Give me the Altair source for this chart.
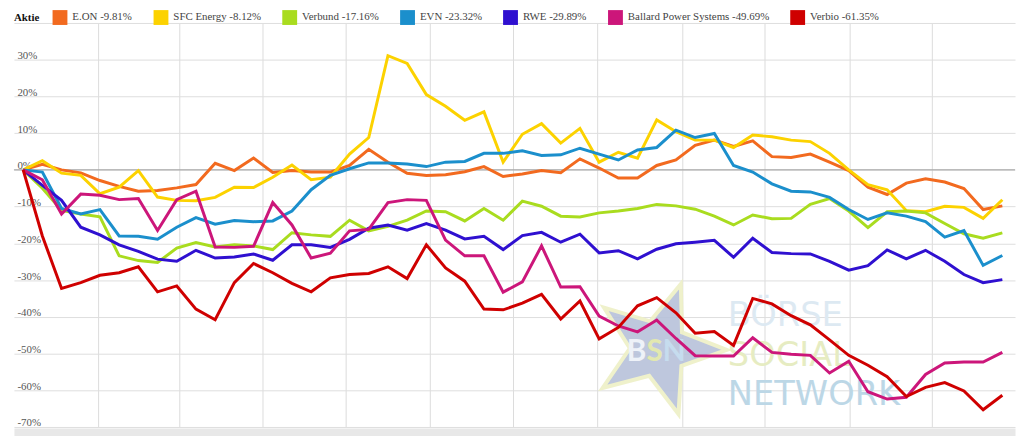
import math
import altair as alt
import pandas as pd

names = ["E.ON", "SFC Energy", "Verbund", "EVN", "RWE", "Ballard Power Systems", "Verbio"]
final_change = ["-9.81%", "-8.12%", "-17.16%", "-23.32%", "-29.89%", "-49.69%", "-61.35%"]
colors = ["#f26a1f", "#fcd200", "#a9dc1f", "#1b8fcc", "#2f10d0", "#cc167a", "#cf0000"]

weeks = list(range(52))

eon = [0, 1.5, 0, -0.8, -2.9, -4.5, -5.8, -5.6, -4.9, -4.0, 1.8, -0.2, 3.2, -0.7,
       -0.2, -0.6, -0.6, 1.2, 5.6, 2.1, -0.9, -1.5, -1.3, -0.5, 0.9, -1.8, -1.1,
       -0.2, -0.8, 3.0, 0.5, -2.2, -2.2, 1.2, 2.7, 6.7, 8.1, 6.4, 7.9, 3.6, 3.4,
       4.3, 2.1, -0.2, -4.7, -6.7, -3.6, -2.4, -3.3, -5.1, -10.8, -9.81]
sfc = [0, 2.5, -0.9, -1.5, -6.5, -4.7, -0.2, -7.4, -8.3, -8.4, -7.5, -4.7, -4.8, -2.0,
       1.3, -2.7, -2.0, 4.3, 8.8, 31.1, 29.0, 20.5, 17.3, 13.5, 15.8, 2.1, 9.7,
       12.6, 7.3, 11.3, 2.1, 4.8, 3.2, 13.6, 10.4, 8.1, 8.1, 6.1, 9.5, 9.0, 8.1,
       7.7, 4.5, 0.0, -4.0, -5.4, -11.1, -11.4, -9.9, -10.2, -13.2, -8.12]
verbund = [0, -5.0, -11.0, -12.0, -12.8, -23.4, -24.7, -25.2, -21.3, -19.8, -21.0, -20.4,
           -20.7, -21.7, -17.1, -17.7, -18.1, -13.7, -16.6, -15.4, -13.7, -11.2, -11.4,
           -13.9, -10.5, -13.7, -8.5, -9.9, -12.6, -12.8, -11.7, -11.2, -10.5, -9.4,
           -9.8, -10.7, -12.6, -15.0, -12.3, -13.3, -13.2, -9.4, -7.8, -11.2, -15.7,
           -11.4, -11.2, -11.7, -14.6, -17.4, -18.6, -17.16]
evn = [0, -0.6, -10.5, -12.0, -10.8, -18.0, -18.1, -18.9, -15.6, -13.0, -14.8, -13.8,
       -14.1, -13.9, -11.2, -5.4, -1.5, 0.3, 1.9, 1.9, 1.6, 0.9, 2.1, 2.3, 4.5, 4.5,
       5.2, 3.9, 4.1, 5.9, 4.3, 2.7, 5.4, 6.1, 10.8, 8.8, 9.9, 1.2, -0.6, -3.8, -5.8,
       -6.0, -7.5, -10.8, -13.5, -11.7, -12.6, -14.1, -18.3, -16.5, -26.0, -23.32]
rwe = [0, -4.2, -8.3, -15.6, -17.7, -20.4, -22.2, -24.3, -24.9, -21.9, -24.0, -23.7,
       -22.9, -24.6, -20.4, -20.4, -21.1, -18.9, -15.9, -15.0, -16.4, -14.6, -16.4,
       -18.8, -18.1, -21.7, -17.9, -17.0, -19.7, -17.5, -22.6, -22.0, -24.2, -21.6,
       -20.1, -19.7, -19.2, -23.8, -18.6, -22.5, -22.8, -22.9, -24.9, -27.3, -26.1,
       -21.8, -24.2, -21.9, -24.9, -28.5, -30.7, -29.89]
ballard = [0, -2.7, -12.0, -6.6, -6.9, -8.1, -7.8, -16.5, -8.1, -5.8, -21.0, -21.1,
           -20.8, -8.9, -15.0, -24.0, -22.7, -16.6, -16.2, -8.9, -8.1, -8.3, -19.1,
           -23.4, -23.4, -33.3, -30.5, -20.7, -31.9, -31.8, -39.8, -42.5, -44.1, -40.9,
           -45.9, -50.6, -50.7, -50.7, -45.7, -49.7, -50.2, -50.5, -55.3, -52.1, -60.4,
           -62.4, -61.9, -55.7, -52.6, -52.3, -52.3, -49.69]
verbio = [0, -18.0, -32.3, -30.7, -28.7, -28.0, -26.4, -33.2, -31.6, -37.9, -40.8, -30.7,
          -25.5, -28.0, -30.9, -33.2, -29.4, -28.5, -28.2, -26.4, -29.6, -20.4, -26.7,
          -30.3, -37.9, -38.1, -36.3, -33.9, -40.6, -35.7, -46.0, -42.9, -37.0, -34.8,
          -38.9, -44.5, -44.0, -47.8, -35.0, -36.5, -39.7, -42.2, -46.3, -50.5, -53.2,
          -56.3, -61.7, -59.2, -57.9, -60.2, -65.3, -61.35]

series_values = [eon, sfc, verbund, evn, rwe, ballard, verbio]

# month boundaries (vertical grid lines), in week units
month_ticks = [3.90, 8.13, 12.47, 16.80, 21.18, 25.51, 29.90, 34.33, 38.61, 43.05, 47.33]
y_ticks = [-70, -60, -50, -40, -30, -20, -10, 0, 10, 20, 30, 40]

labels = [f"{n} {c}" for n, c in zip(names, final_change)]

rows = []
for lab, vals in zip(labels, series_values):
    for w, v in zip(weeks, vals):
        rows.append({"week": w, "value": v, "series": lab})
df = pd.DataFrame(rows)

FONT = "Liberation Serif"
W, H = 1011, 408

x_enc = alt.X(
    "week:Q",
    scale=alt.Scale(domain=[-0.48, 51.66], nice=False, zero=False),
    axis=alt.Axis(values=month_ticks, grid=True, gridColor="#dcdcdc", gridWidth=1,
                  labels=False, ticks=False, tickSize=0, domain=True,
                  domainColor="#e8e8e8", domainWidth=12, offset=7, title=None),
)
y_enc = alt.Y(
    "value:Q",
    scale=alt.Scale(domain=[-70, 40], nice=False, zero=False),
    axis=alt.Axis(values=y_ticks,
                  labelExpr="datum.value >= 40 ? '' : datum.value + '%'",
                  labelAlign="left", labelPadding=-3, labelBaseline="alphabetic",
                  labelOffset=-1,
                  labelOverlap=False, labelBound=False, labelFlush=False,
                  ticks=False, tickSize=0, domain=False, grid=True,
                  gridColor="#dedede", gridWidth=1, labelColor="#555555",
                  labelFont=FONT, labelFontSize=11, title=None),
)

lines = alt.Chart(df).mark_line(strokeWidth=3, interpolate="linear").encode(
    x=x_enc,
    y=y_enc,
    stroke=alt.Stroke("series:N", scale=alt.Scale(domain=labels, range=colors), legend=None),
    detail="series:N",
)

legend_layer = alt.Chart(df).mark_square(opacity=0, size=1).encode(
    x=x_enc,
    y=y_enc,
    fill=alt.Fill(
        "series:N",
        scale=alt.Scale(domain=labels, range=colors),
        legend=alt.Legend(
            orient="none", legendX=0, legendY=-13, direction="horizontal",
            columns=7, title="Aktie", titleOrient="left", titleFont=FONT,
            titleFontSize=11, titleFontWeight="bold", titleColor="#111111",
            titlePadding=13, titleBaseline="middle",
            labelFont=FONT, labelFontSize=11, labelColor="#444444", labelLimit=0,
            labelOffset=5, symbolType="square", symbolSize=225,
            symbolStrokeWidth=0, symbolOpacity=1, columnPadding=21, padding=0,
        ),
    ),
)

zero_df = pd.DataFrame({"week": [0], "value": [0]})
zero_rule = alt.Chart(zero_df).mark_rule(color="#9a9a9a", strokeWidth=1).encode(y=y_enc)

# watermark (decoration)
pts = []
for k in range(10):
    ang = math.radians(1 + 36 * k)
    r = 1.0 if k % 2 == 0 else 0.42
    pts.append(f"{r * math.cos(ang):.3f},{r * math.sin(ang):.3f}")
star_path = "M" + " L".join(pts) + " Z"
one = pd.DataFrame({"a": [0]})
star = alt.Chart(one).mark_point(
    shape=star_path, size=19000, filled=True, fill="#b7c2da",
    stroke="#eef0c6", strokeWidth=4, opacity=0.9
).encode(x=alt.value(651), y=alt.value(329))

bsn = alt.Chart(one).mark_text(
    text="BSN", align="left", baseline="alphabetic", font="Lato", fontSize=30,
    fontWeight="bold",
    color=alt.Gradient(gradient="linear", x1=0, y1=0, x2=1, y2=0, stops=[
        alt.GradientStop(offset=0, color="#eef2f8"),
        alt.GradientStop(offset=0.33, color="#eef2f8"),
        alt.GradientStop(offset=0.33, color="#e2e8b0"),
        alt.GradientStop(offset=0.62, color="#e2e8b0"),
        alt.GradientStop(offset=0.62, color="#c6dcee"),
        alt.GradientStop(offset=1, color="#c6dcee"),
    ]),
).encode(x=alt.value(619), y=alt.value(341))

brand = alt.Chart(one).mark_text(
    text=["BÖRSE", "SOCIAL", "NETWORK"], align="left", baseline="alphabetic",
    font="DejaVu Sans", fontSize=34, lineHeight=40,
    color=alt.Gradient(gradient="linear", x1=0, y1=0, x2=0, y2=1, stops=[
        alt.GradientStop(offset=0, color="#dde9f2"),
        alt.GradientStop(offset=0.33, color="#dde9f2"),
        alt.GradientStop(offset=0.33, color="#e6ecc2"),
        alt.GradientStop(offset=0.66, color="#e6ecc2"),
        alt.GradientStop(offset=0.66, color="#bcd7e6"),
        alt.GradientStop(offset=1, color="#bcd7e6"),
    ]),
).encode(x=alt.value(721), y=alt.value(306))

chart = alt.layer(star, bsn, brand, legend_layer, zero_rule, lines).properties(
    width=W, height=H,
    padding={"left": 5, "top": 0, "right": 0, "bottom": 0},
    background="white",
).configure_view(stroke=None)

chart.save("out.html", embed_options={"renderer": "svg", "actions": False})
